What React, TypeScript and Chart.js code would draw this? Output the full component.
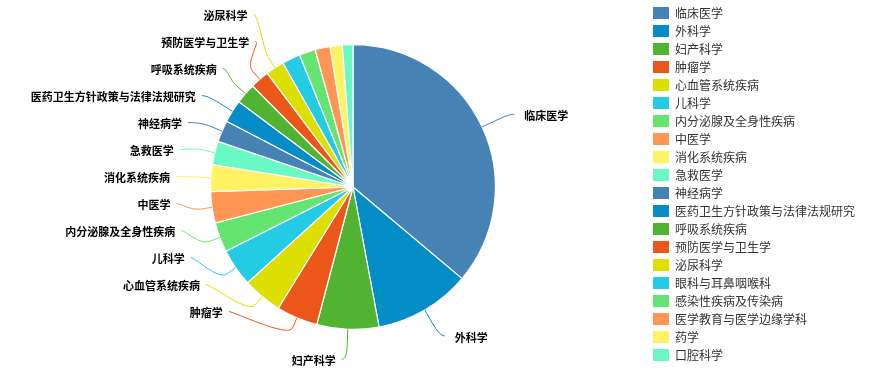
import React, { useEffect, useRef } from "react";
import { Chart, registerables } from "chart.js";

Chart.register(...registerables);

// Disciplines, in drawing order (clockwise from 12 o'clock)
const categories: string[] = [
  "临床医学",
  "外科学",
  "妇产科学",
  "肿瘤学",
  "心血管系统疾病",
  "儿科学",
  "内分泌腺及全身性疾病",
  "中医学",
  "消化系统疾病",
  "急救医学",
  "神经病学",
  "医药卫生方针政策与法律法规研究",
  "呼吸系统疾病",
  "预防医学与卫生学",
  "泌尿科学",
  "眼科与耳鼻咽喉科",
  "感染性疾病及传染病",
  "医学教育与医学边缘学科",
  "药学",
  "口腔科学",
];

const counts: number[] = [
  1300, 394, 253, 169, 161, 154, 122, 128, 109, 96,
  88, 93, 84, 78, 76, 74, 66, 61, 50, 43,
];

const palette: string[] = [
  "#4682B4",
  "#058DC7",
  "#50B432",
  "#ED561B",
  "#DDDF00",
  "#24CBE5",
  "#64E572",
  "#FF9655",
  "#FFF263",
  "#6AF9C4",
];

const W = 873;
const H = 388;

// data label placement
const LABEL_DISTANCE = 30; // label anchor distance outside the rim
const CONNECTOR_OFFSET = 11; // second break of the connector, outside the rim
const CONNECTOR_PADDING = 5;
const LABEL_HEIGHT = 27; // height of one label slot
const TEXT_GAP_RIGHT = 10;
const TEXT_GAP_LEFT = 6;

const LEGEND_X = 653;
const LEGEND_Y = 7;
const LEGEND_PITCH = 18;
const LEGEND_BOX_W = 16;
const LEGEND_BOX_H = 12;

const LABEL_FONT = "bold 11px 'Noto Sans CJK SC', 'Noto Sans', sans-serif";
const LEGEND_FONT = "12px 'Noto Sans CJK SC', 'Noto Sans', sans-serif";

type Pt = [number, number];

type LabelPoint = {
  idx: number;
  value: number;
  angle: number;
  natural: Pt; // anchor on the label circle
  brk: Pt; // connector break just outside the rim
  base: Pt; // connector foot on the rim
  rank?: number;
  x?: number;
  y?: number;
};

// Places the labels of one half of the pie into evenly spaced slots
function layoutHalf(
  points: LabelPoint[],
  left: boolean,
  cx: number,
  cy: number,
  r: number,
  plotHeight: number
): LabelPoint[] {
  if (!points.length) return [];
  const R = r + LABEL_DISTANCE;
  // top to bottom
  points.sort((a, b) => (left ? b.angle - a.angle : a.angle - b.angle));

  const slotTop = Math.max(0, cy - R);
  const slotBottom = Math.min(cy + R, plotHeight);
  const slots: (number | null)[] = [];
  for (let pos = slotTop; pos <= slotBottom + 1e-9; pos += LABEL_HEIGHT) slots.push(pos);
  const slotsLength = slots.length;

  // when there are more labels than slots, the smallest values lose their label
  if (points.length > slotsLength) {
    const ranked = [...points].sort((a, b) => b.value - a.value);
    ranked.forEach((p, k) => (p.rank = k));
    points = points.filter((p) => (p.rank as number) < slotsLength);
  }
  const length = points.length;

  const used: { i: number; y: number }[] = [];
  for (let j = 0; j < length; j++) {
    const ny = points[j].natural[1];
    let closest = Infinity;
    let slotIndex = 0;
    for (let s = 0; s < slotsLength; s++) {
      const sv = slots[s];
      const dist = Math.abs((sv === null ? 0 : sv) - ny);
      if (dist < closest) {
        closest = dist;
        slotIndex = s;
      }
    }
    if (slotIndex < j && slots[j] !== null) {
      // cluster at the top
      slotIndex = j;
    } else if (slotsLength < length - j + slotIndex && slots[j] !== null) {
      // cluster at the bottom
      slotIndex = slotsLength - length + j;
      while (slots[slotIndex] === null) slotIndex++;
    } else {
      while (slots[slotIndex] === null) slotIndex++;
    }
    used.push({ i: slotIndex, y: slotTop + slotIndex * LABEL_HEIGHT });
    slots[slotIndex] = null;
  }
  used.sort((a, b) => a.i - b.i);

  const getX = (y: number) => {
    const s = Math.max(-1, Math.min(1, (y - cy) / R));
    return cx + (left ? -1 : 1) * Math.cos(Math.asin(s)) * R;
  };

  for (let j = 0; j < length; j++) {
    const p = points[j];
    const slot = used[j];
    const ny = p.natural[1];
    let y = slot.y;
    // a free neighbouring slot lets the label fall back to its natural height
    const below = slots[slot.i + 1];
    const above = slots[slot.i - 1];
    if ((ny > y && below !== null) || (ny < y && above !== null)) {
      y = Math.min(Math.max(0, ny), plotHeight);
    }
    const atEnd = Math.abs(y - (cy - R)) < 1e-6 || Math.abs(y - (cy + R)) < 1e-6;
    p.x = getX(atEnd ? ny : y);
    p.y = y;
  }
  return points;
}

const pieDataLabels = {
  id: "pieDataLabels",
  afterDatasetsDraw(chart: any) {
    const meta = chart.getDatasetMeta(0);
    const arcs = meta.data;
    if (!arcs.length) return;
    const ctx: CanvasRenderingContext2D = chart.ctx;
    const first = arcs[0].getProps(["x", "y", "outerRadius"], true);
    const cx = first.x;
    const cy = first.y;
    const r = first.outerRadius;
    const values: number[] = chart.data.datasets[0].data;
    const colors = chart.data.datasets[0].backgroundColor as string[];
    const names: string[] = chart.data.labels;

    const halves: LabelPoint[][] = [[], []];
    arcs.forEach((arc: any, i: number) => {
      const p = arc.getProps(["startAngle", "endAngle"], true);
      const angle = (p.startAngle + p.endAngle) / 2;
      const c = Math.cos(angle);
      const s = Math.sin(angle);
      const at = (d: number): Pt => [cx + c * (r + d), cy + s * (r + d)];
      halves[c < 0 ? 1 : 0].push({
        idx: i,
        value: values[i],
        angle,
        natural: at(LABEL_DISTANCE),
        brk: at(CONNECTOR_OFFSET),
        base: at(0),
      });
    });

    ctx.save();
    ctx.lineWidth = 1;
    ctx.font = LABEL_FONT;
    ctx.textBaseline = "middle";
    [0, 1].forEach((h) => {
      const left = h === 1;
      const placed = layoutHalf(halves[h], left, cx, cy, r, H);
      const dir = left ? -1 : 1;
      for (const p of placed) {
        const x = p.x as number;
        const y = p.y as number;
        const ctrl: Pt = [2 * p.brk[0] - p.base[0], 2 * p.brk[1] - p.base[1]];
        const startX = x + dir * CONNECTOR_PADDING;
        // soft connector: curve from the label to the break, then straight to the rim
        ctx.strokeStyle = colors[p.idx];
        ctx.beginPath();
        ctx.moveTo(startX, y);
        ctx.bezierCurveTo(x, y, ctrl[0], ctrl[1], p.brk[0], p.brk[1]);
        ctx.lineTo(p.base[0], p.base[1]);
        ctx.stroke();

        ctx.fillStyle = "#000";
        ctx.textAlign = left ? "right" : "left";
        const tx = startX + dir * (left ? TEXT_GAP_LEFT : TEXT_GAP_RIGHT);
        ctx.fillText(names[p.idx], tx, y + 1.5);
      }
    });
    ctx.restore();
  },
  afterDraw(chart: any) {
    const ctx: CanvasRenderingContext2D = chart.ctx;
    const colors = chart.data.datasets[0].backgroundColor as string[];
    const names: string[] = chart.data.labels;
    ctx.save();
    ctx.font = LEGEND_FONT;
    ctx.textBaseline = "middle";
    ctx.textAlign = "left";
    names.forEach((name, i) => {
      const y = LEGEND_Y + i * LEGEND_PITCH;
      ctx.fillStyle = colors[i];
      ctx.fillRect(LEGEND_X, y, LEGEND_BOX_W, LEGEND_BOX_H);
      ctx.fillStyle = "#333";
      ctx.fillText(name, LEGEND_X + LEGEND_BOX_W + 6, y + LEGEND_BOX_H / 2 + 0.5);
    });
    ctx.restore();
  },
};

export default function App() {
  const canvasRef = useRef<HTMLCanvasElement | null>(null);

  useEffect(() => {
    const canvas = canvasRef.current;
    if (!canvas) return;
    const colors = categories.map((_, i) => palette[i % palette.length]);
    const chart = new Chart(canvas, {
      type: "pie",
      data: {
        labels: categories,
        datasets: [
          {
            data: counts,
            backgroundColor: colors,
            borderColor: "#ffffff",
            borderWidth: 1.2,
          },
        ],
      },
      options: {
        responsive: false,
        animation: false,
        events: [],
        layout: {
          padding: { left: 210, right: 377, top: 44, bottom: 58 },
        },
        plugins: {
          legend: { display: false },
          tooltip: { enabled: false },
        },
      },
      plugins: [pieDataLabels],
    });
    return () => chart.destroy();
  }, []);

  return (
    <div style={{ position: "absolute", left: 0, top: 0, width: W, height: H, background: "#fff" }}>
      <canvas ref={canvasRef} width={W} height={H} style={{ display: "block" }} />
    </div>
  );
}
